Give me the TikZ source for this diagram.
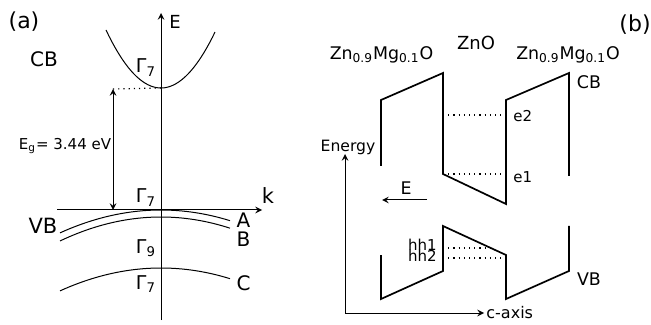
\documentclass[tikz,border=0pt]{standalone}
\usepackage{fontspec}
\setmainfont{DejaVu Sans}

\begin{document}
\begin{tikzpicture}[x=0.5pt,y=-0.5pt,
  axisline/.style={line width=0.5pt},
  band/.style={line width=0.85pt},
  level/.style={line width=0.6pt,dotted},
  big/.style={font=\fontsize{10}{12}\selectfont},
  gam/.style={font=\fontsize{9.5}{11}\selectfont,anchor=base},
  mid/.style={font=\fontsize{8.7}{10}\selectfont},
  small/.style={font=\fontsize{7.5}{8.5}\selectfont}]

\useasboundingbox (0,0) rectangle (651,325);

% (a) band structure
\coordinate (Ebot) at (161,320);
\coordinate (Etop) at (161,13);
\coordinate (kleft) at (57,210);
\coordinate (kright) at (262,210);
\draw[axisline,-stealth] (Ebot) -- (Etop);
\draw[axisline,-stealth] (kleft) -- (kright);

\draw[axisline] plot[domain=-55:54,samples=40] ({161+\x},{88-58*(\x/55)^2}); % CB
\draw[axisline] plot[domain=-101:69,samples=40] ({161+\x},{210+0.00225*\x*\x}); % A
\draw[axisline] plot[domain=-101:69,samples=40] ({161+\x},{217+0.00235*\x*\x}); % B
\draw[axisline] plot[domain=-101:69,samples=40] ({161+\x},{268+0.00225*\x*\x}); % C

\coordinate (gaptop) at (113,89);
\coordinate (cbmin) at (161,88);
\coordinate (gapbot) at (113,210);
\draw[level] (gaptop) -- (cbmin);
\draw[axisline,stealth-stealth] (gaptop) -- (gapbot);

\node[font=\fontsize{11}{13}\selectfont] (labela) at (24,22) {(a)};
\node[font=\fontsize{9}{11}\selectfont] (Elabel) at (175,22) {E};
\node[font=\fontsize{10.5}{12}\selectfont] (klabel) at (268,196) {k};
\node[big] (CBa) at (44,59) {CB};
\node[font=\fontsize{10.5}{12}\selectfont] (VBa) at (43,226) {VB};
\node[small] (Eg) at (65,146) {E\textsubscript{g}= 3.44 eV};
\node[gam] (G7cb) at (146,73) {Γ\textsubscript{7}};
\node[gam] (G7A) at (146,203) {Γ\textsubscript{7}};
\node[gam] (G9) at (146,253) {Γ\textsubscript{9}};
\node[gam] (G7C) at (146,289) {Γ\textsubscript{7}};
\node[big] (Alabel) at (243.5,220) {A};
\node[big] (Blabel) at (243.5,239) {B};
\node[big] (Clabel) at (243.5,283) {C};

% (b) quantum well
\draw[band] (381,166) -- (381,100) -- (443,73) -- (443,174) -- (506,204)
  -- (506,100) -- (569,73) -- (569,176); % CB
\draw[band] (381,255) -- (381,299) -- (443,271) -- (443,226) -- (506,255)
  -- (506,299) -- (569,271) -- (569,226); % VB

\draw[level] (443,115) -- (506,115); % e2
\draw[level] (443,174) -- (506,174); % e1
\draw[level] (443,248) -- (493,248); % hh1
\draw[level] (443,258) -- (506,258); % hh2

\coordinate (fieldtail) at (427,200);
\coordinate (fieldhead) at (382,200);
\draw[axisline,-stealth] (fieldtail) -- (fieldhead);

\coordinate (energytip) at (345,154);
\coordinate (caxistip) at (484,313);
\draw[axisline,stealth-stealth] (energytip) |- (caxistip);

\node[font=\fontsize{11}{13}\selectfont] (labelb) at (635,25) {(b)};
\node[mid,anchor=base] (barrierL) at (381.5,60) {Zn\textsubscript{0.9}Mg\textsubscript{0.1}O};
\node[font=\fontsize{9}{11}\selectfont,anchor=base] (well) at (476,50) {ZnO};
\node[mid] (CBb) at (589,82) {CB};
\node[mid,anchor=base] (barrierR) at (568,60) {Zn\textsubscript{0.9}Mg\textsubscript{0.1}O};
\node[mid] (VBb) at (589,279) {VB};
\node[small,anchor=west,inner sep=1pt] (e2) at (511,116) {e2};
\node[small,anchor=west,inner sep=1pt] (e1) at (511,177) {e1};
\node[small,anchor=base east,inner sep=1pt] (hh1) at (439,250) {hh1};
\node[small,anchor=base east,inner sep=1pt] (hh2) at (439,262) {hh2};
\node[mid] (Efield) at (406,188) {E};
\node[font=\fontsize{7.8}{9}\selectfont] (energy) at (348,147) {Energy};
\node[font=\fontsize{8}{9}\selectfont,anchor=west,inner sep=1pt] (caxis) at (caxistip) {c-axis};

\end{tikzpicture}
\end{document}
